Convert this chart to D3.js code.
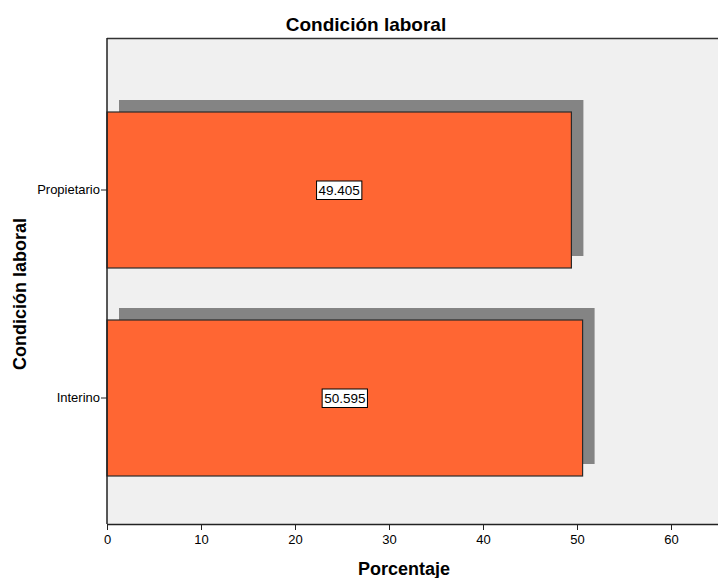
<!DOCTYPE html>
<html>
<head>
<meta charset="utf-8">
<script src="https://cdn.jsdelivr.net/npm/d3@7"></script>
<style>
  html, body { margin: 0; padding: 0; background: #ffffff; }
  svg { display: block; font-family: "Liberation Sans", Arial, sans-serif; }
</style>
</head>
<body>
<svg id="chart" width="718" height="578"></svg>
<script>
const categories = ["Propietario", "Interino"];
const values = [49.405, 50.595];
const valueLabels = ["49.405", "50.595"];
const xTicks = [0, 10, 20, 30, 40, 50, 60];
const chartTitle = "Condición laboral";
const xTitle = "Porcentaje";
const yTitle = "Condición laboral";

const svg = d3.select("#chart");
const plot = { left: 107, top: 38, right: 718, bottom: 524 };

const x = d3.scaleLinear().domain([0, 65]).range([plot.left, plot.right]);
const y = d3.scaleBand().domain(categories).range([86, 502])
  .paddingInner(0.25).paddingOuter(0.125);

// plot background
svg.append("rect")
  .attr("x", plot.left).attr("y", plot.top)
  .attr("width", plot.right - plot.left).attr("height", plot.bottom - plot.top)
  .attr("fill", "#f0f0f0");

// top border
svg.append("line")
  .attr("x1", plot.left).attr("x2", plot.right)
  .attr("y1", plot.top + 0.5).attr("y2", plot.top + 0.5)
  .attr("stroke", "#333").attr("stroke-width", 1.5);

const shadowOff = 12;
// shadows
svg.selectAll("rect.shadow").data(categories).join("rect")
  .attr("class", "shadow")
  .attr("x", x(0) + shadowOff)
  .attr("y", d => y(d) - shadowOff)
  .attr("width", (d, i) => x(values[i]) - x(0))
  .attr("height", y.bandwidth())
  .attr("fill", "#848484");

// bars
svg.selectAll("rect.bar").data(categories).join("rect")
  .attr("class", "bar")
  .attr("x", x(0))
  .attr("y", d => y(d))
  .attr("width", (d, i) => x(values[i]) - x(0))
  .attr("height", y.bandwidth())
  .attr("fill", "#ff6633")
  .attr("stroke", "#2a2a2a")
  .attr("stroke-width", 1.2);

// value labels
categories.forEach((c, i) => {
  const cx = x(values[i] / 2);
  const cy = y(c) + y.bandwidth() / 2;
  const g = svg.append("g");
  const t = g.append("text")
    .attr("x", cx).attr("y", cy + 5)
    .attr("text-anchor", "middle")
    .attr("font-size", 13.5)
    .attr("fill", "#000")
    .text(valueLabels[i]);
  const bb = t.node().getBBox();
  g.insert("rect", "text")
    .attr("x", bb.x - 2).attr("y", cy - 9)
    .attr("width", bb.width + 4).attr("height", 18.5)
    .attr("fill", "#fff").attr("stroke", "#000").attr("stroke-width", 1);
});

// x axis
const xAxis = svg.append("g")
  .attr("transform", `translate(0,${plot.bottom})`)
  .call(d3.axisBottom(x).tickValues(xTicks).tickSize(6).tickSizeOuter(0).tickPadding(5));
xAxis.select(".domain").attr("stroke", "#222").attr("stroke-width", 1.5);
xAxis.selectAll(".tick line").attr("stroke", "#222");
xAxis.selectAll("text").attr("font-size", 13).attr("fill", "#000")
  .attr("font-family", "Liberation Sans, Arial, sans-serif");

// y axis
const yAxis = svg.append("g")
  .attr("transform", `translate(${plot.left},0)`)
  .call(d3.axisLeft(y).tickSize(6).tickSizeOuter(0).tickPadding(1));
yAxis.select(".domain").attr("d", `M0,${plot.top}V${plot.bottom}`)
  .attr("stroke", "#222").attr("stroke-width", 1.5);
yAxis.selectAll(".tick line").attr("stroke", "#222");
yAxis.selectAll("text").attr("font-size", 13).attr("fill", "#000")
  .attr("font-family", "Liberation Sans, Arial, sans-serif");

// titles
svg.append("text")
  .attr("x", 366).attr("y", 31)
  .attr("text-anchor", "middle")
  .attr("font-size", 19).attr("font-weight", "bold")
  .text(chartTitle);

svg.append("text")
  .attr("x", 404).attr("y", 575)
  .attr("text-anchor", "middle")
  .attr("font-size", 18).attr("font-weight", "bold")
  .text(xTitle);

svg.append("text")
  .attr("transform", "translate(26,294) rotate(-90)")
  .attr("text-anchor", "middle")
  .attr("font-size", 18).attr("font-weight", "bold")
  .text(yTitle);
</script>
</body>
</html>
